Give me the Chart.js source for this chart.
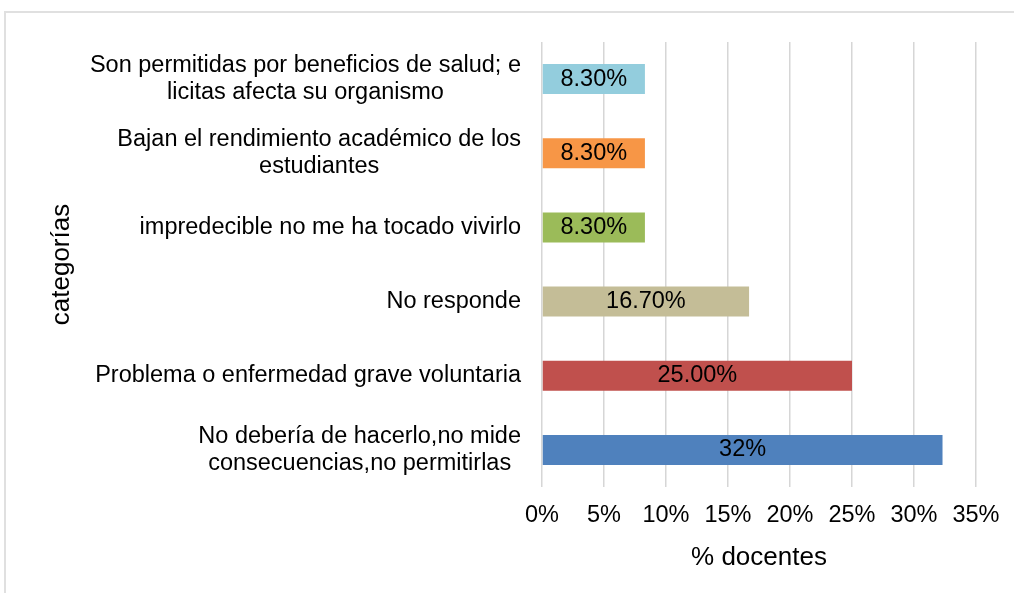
<!DOCTYPE html>
<html>
<head>
<meta charset="utf-8">
<script src="https://cdn.jsdelivr.net/npm/chart.js@4.4.1/dist/chart.umd.min.js"></script>
<style>
  html, body { margin: 0; padding: 0; background: #fff; overflow: hidden; }
  #frame { position: absolute; left: 4px; top: 11px; width: 1030px; height: 620px; border: 2px solid #e0e0e0; }
  #wrap { position: absolute; left: 0; top: 0; width: 1014px; height: 593px; }
</style>
</head>
<body>
<div id="frame"></div>
<div id="wrap"><canvas id="chart"></canvas></div>
<script>
// Data
const categories = [
  ['Son permitidas por beneficios de salud; e', 'licitas afecta su organismo'],
  ['Bajan el rendimiento académico de los', 'estudiantes'],
  ['impredecible no me ha tocado vivirlo'],
  ['No responde'],
  ['Problema o enfermedad grave voluntaria'],
  ['No debería de hacerlo,no mide', 'consecuencias,no permitirlas']
];
const values = [8.3, 8.3, 8.3, 16.7, 25, 32.3];
const valueLabels = ['8.30%', '8.30%', '8.30%', '16.70%', '25.00%', '32%'];
const barColors = ['#93cddd', '#f79646', '#9bbb59', '#c4bd97', '#c0504d', '#4f81bd'];
const xTicks = [0, 5, 10, 15, 20, 25, 30, 35];

const FONT = '"Liberation Sans", Arial, sans-serif';

// Category labels (centred lines, right-aligned block) and values in the bars
const labelPlugin = {
  id: 'labels',
  afterDatasetsDraw(chart) {
    const ctx = chart.ctx;
    const yScale = chart.scales.y;
    const area = chart.chartArea;
    ctx.save();
    ctx.font = '23.5px ' + FONT;
    ctx.fillStyle = '#000';
    ctx.textBaseline = 'middle';
    ctx.textAlign = 'center';
    categories.forEach((lines, i) => {
      const cy = yScale.getPixelForValue(i);
      const w = Math.max(...lines.map(l => ctx.measureText(l).width));
      const cx = area.left - 21 - w / 2;
      const lh = 26.7;
      lines.forEach((l, j) => ctx.fillText(l, cx, cy + (j - (lines.length - 1) / 2) * lh));
    });
    chart.getDatasetMeta(0).data.forEach((bar, i) => {
      ctx.fillText(valueLabels[i], (bar.x + bar.base) / 2, bar.y);
    });
    ctx.restore();
  }
};

new Chart(document.getElementById('chart'), {
  type: 'bar',
  data: {
    labels: categories,
    datasets: [{
      data: values,
      backgroundColor: barColors,
      borderWidth: 0,
      categoryPercentage: 1,
      barPercentage: 0.404
    }]
  },
  options: {
    indexAxis: 'y',
    responsive: true,
    maintainAspectRatio: false,
    animation: false,
    layout: { padding: { top: 42, right: 38, bottom: 0, left: 0 } },
    plugins: {
      legend: { display: false },
      tooltip: { enabled: false }
    },
    scales: {
      x: {
        min: xTicks[0],
        max: xTicks[xTicks.length - 1],
        ticks: {
          stepSize: 5,
          padding: 14,
          color: '#000',
          font: { family: FONT, size: 23.5 },
          callback: v => v + '%'
        },
        grid: { color: '#d6d6d6', lineWidth: 1.5, drawTicks: false },
        border: { display: false },
        title: {
          display: true,
          text: '% docentes',
          color: '#000',
          font: { family: FONT, size: 26 },
          padding: { top: 0, bottom: 20 }
        },
        afterFit: s => { s.height = 106; }
      },
      y: {
        ticks: { display: false },
        grid: { display: false },
        border: { display: false },
        title: {
          display: true,
          text: 'categorías',
          color: '#000',
          font: { family: FONT, size: 26 },
          padding: { top: 46, bottom: 0 }
        },
        afterFit: s => { s.width = 542; }
      }
    }
  },
  plugins: [labelPlugin]
});
</script>
</body>
</html>
